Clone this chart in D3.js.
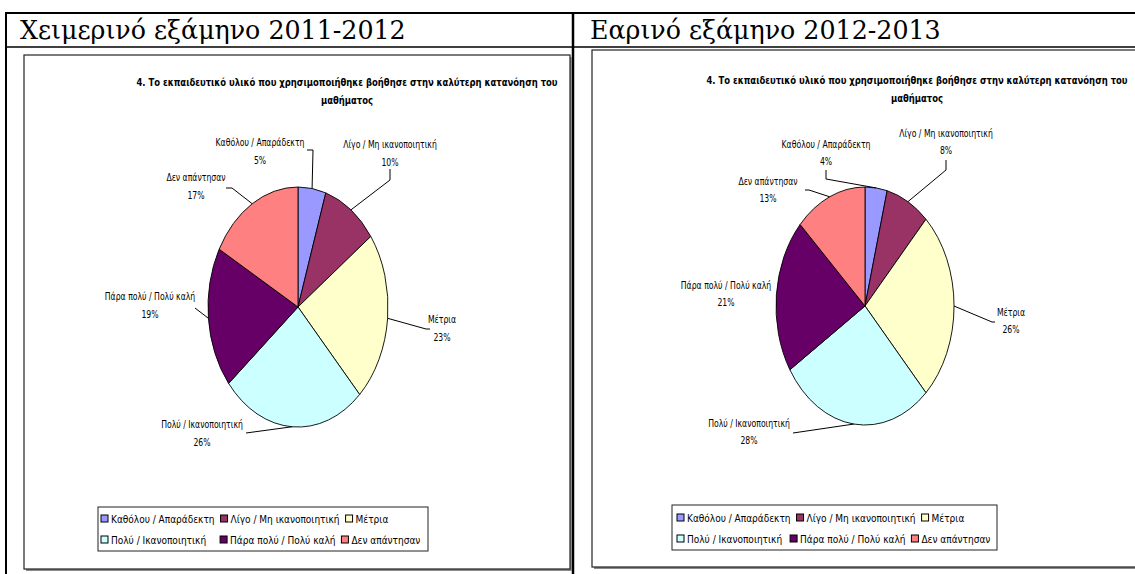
<!DOCTYPE html>
<html>
<head>
<meta charset="utf-8">
<script src="https://cdn.jsdelivr.net/npm/d3@7"></script>
<style>
  body { margin: 0; background: #fff; }
  svg { display: block; }
</style>
</head>
<body>
<svg id="chart" width="1135" height="574"></svg>
<script>
// Survey answers: share of students per answer, two semesters
const categories = [
  "Καθόλου / Απαράδεκτη",
  "Λίγο / Μη ικανοποιητική",
  "Μέτρια",
  "Πολύ / Ικανοποιητική",
  "Πάρα πολύ / Πολύ καλή",
  "Δεν απάντησαν"
];
const winterValues = [5, 10, 23, 26, 19, 17];
const springValues = [4, 8, 26, 28, 21, 13];
const semesterTitles = ["Χειμερινό εξάμηνο 2011-2012", "Εαρινό εξάμηνο 2012-2013"];
const chartTitleLines = [
  "4. Το εκπαιδευτικό υλικό που χρησιμοποιήθηκε βοήθησε στην καλύτερη κατανόηση του",
  "μαθήματος"
];
const sliceColors = ["#9999FF", "#993366", "#FFFFCC", "#CCFFFF", "#660066", "#FF8080"];

// Page layout for each semester column
const panels = [
  {
    values: winterValues,
    header: semesterTitles[0],
    headerX: 20,
    frame: { x: 24, y: 55, w: 546, h: 514 },
    titleX: 347, titleY: 86,
    pie: { cx: 298, cy: 307, rx: 90, ry: 120 },
    lineGap: 18,
    labels: [
      { x: 260, y: 146, leader: [[307, 150], [313, 150]] },
      { x: 390, y: 148, leader: [[390, 169], [390, 180]] },
      { x: 442, y: 323, leader: [[430, 329], [426, 329]] },
      { x: 202, y: 428, leader: [[246, 433]] },
      { x: 150, y: 300, leader: [[195, 308]] },
      { x: 196, y: 181, leader: [[226, 188], [232, 188]] }
    ],
    legend: { x: 98, y: 507, w: 330, h: 44, left: 101, rows: [519, 540], gaps: [6, 14] }
  },
  {
    values: springValues,
    header: semesterTitles[1],
    headerX: 590,
    frame: { x: 592, y: 50, w: 560, h: 517 },
    titleX: 917, titleY: 84,
    pie: { cx: 865, cy: 306, rx: 89, ry: 119 },
    lineGap: 17,
    labels: [
      { x: 826, y: 148, leader: [[826, 170], [826, 179]] },
      { x: 946, y: 137, leader: [[946, 160], [946, 170]] },
      { x: 1011, y: 316, leader: [[995, 322], [992, 322]] },
      { x: 749, y: 427, leader: [[793, 433]] },
      { x: 726, y: 289, leader: null },
      { x: 768, y: 185, leader: [[805, 190], [809, 190]] }
    ],
    legend: { x: 672, y: 505, w: 325, h: 45, left: 677, rows: [518, 539], gaps: [6, 8] }
  }
];

const svg = d3.select("#chart");
const labelFont = "'DejaVu Sans Condensed', 'Liberation Sans Narrow', sans-serif";
const narrow = 0.86; // horizontal squeeze for the compact chart lettering

// Places a text at (x, y) with a narrowed letterform
function narrowText(parent, x, y, str, k = narrow) {
  return parent.append("text")
    .attr("transform", `translate(${x},${y}) scale(${k},1)`)
    .text(str);
}

// Table grid
const grid = svg.append("g").attr("stroke", "#000");
grid.append("line").attr("x1", 6).attr("x2", 1135).attr("y1", 13).attr("y2", 13).attr("stroke-width", 2);
grid.append("line").attr("x1", 6).attr("x2", 1135).attr("y1", 47).attr("y2", 47).attr("stroke-width", 1.5);
grid.append("line").attr("x1", 6).attr("x2", 6).attr("y1", 12).attr("y2", 574).attr("stroke-width", 2);
grid.append("line").attr("x1", 573).attr("x2", 573).attr("y1", 12).attr("y2", 574).attr("stroke-width", 2.5);

const pie = d3.pie().sort(null).value(d => d).startAngle(0).endAngle(2 * Math.PI);
const unitArc = d3.arc().innerRadius(0).outerRadius(1);
const rimArc = d3.arc().innerRadius(1).outerRadius(1);

panels.forEach(p => {
  // Semester header
  svg.append("text")
    .attr("x", p.headerX).attr("y", 39)
    .attr("font-family", "'DejaVu Serif', 'Liberation Serif', serif")
    .attr("font-size", 25.3)
    .attr("fill", "#000")
    .text(p.header);

  // Chart area with a soft shadow
  const f = p.frame;
  svg.append("rect")
    .attr("x", f.x + 2).attr("y", f.y + 2).attr("width", f.w).attr("height", f.h)
    .attr("fill", "#8a8a8a");
  svg.append("rect")
    .attr("x", f.x).attr("y", f.y).attr("width", f.w).attr("height", f.h)
    .attr("fill", "#fff").attr("stroke", "#222").attr("stroke-width", 1.2);

  // Chart title
  const tg = svg.append("g")
    .attr("font-family", labelFont)
    .attr("font-weight", "bold")
    .attr("font-size", 11)
    .attr("text-anchor", "middle");
  chartTitleLines.forEach((line, i) => narrowText(tg, p.titleX, p.titleY + i * 18, line, 0.855));

  // Pie, drawn on a unit circle and stretched into the ellipse
  const slices = pie(p.values);
  const sx = d3.scaleLinear().domain([-1, 1]).range([p.pie.cx - p.pie.rx, p.pie.cx + p.pie.rx]);
  const sy = d3.scaleLinear().domain([-1, 1]).range([p.pie.cy - p.pie.ry, p.pie.cy + p.pie.ry]);

  svg.append("g")
    .attr("transform", `translate(${p.pie.cx},${p.pie.cy}) scale(${p.pie.rx},${p.pie.ry})`)
    .selectAll("path")
    .data(slices)
    .join("path")
    .attr("d", unitArc)
    .attr("fill", (d, i) => sliceColors[i])
    .attr("stroke", "#000")
    .attr("stroke-width", 0.9)
    .attr("vector-effect", "non-scaling-stroke");

  // Leader lines from each label to the rim of its slice
  const line = d3.line();
  slices.forEach((s, i) => {
    const lab = p.labels[i];
    if (!lab.leader) return;
    const [ux, uy] = rimArc.centroid(s);
    const pts = lab.leader.concat([[sx(ux), sy(uy)]]);
    svg.append("path")
      .attr("d", line(pts))
      .attr("fill", "none")
      .attr("stroke", "#000")
      .attr("stroke-width", 1);
  });

  // Category and percentage labels
  const lg = svg.append("g")
    .attr("font-family", labelFont)
    .attr("font-size", 10)
    .attr("fill", "#000")
    .attr("text-anchor", "middle");
  slices.forEach((s, i) => {
    const lab = p.labels[i];
    narrowText(lg, lab.x, lab.y, categories[i]);
    narrowText(lg, lab.x, lab.y + p.lineGap, s.data + "%");
  });

  // Legend: three entries per row, each following the previous one
  const L = p.legend;
  svg.append("rect")
    .attr("x", L.x).attr("y", L.y).attr("width", L.w).attr("height", L.h)
    .attr("fill", "#fff").attr("stroke", "#222").attr("stroke-width", 1);
  const legendG = svg.append("g")
    .attr("font-family", labelFont)
    .attr("font-size", 10);
  let cursor = L.left;
  categories.forEach((name, i) => {
    const row = Math.floor(i / 3);
    if (i % 3 === 0) cursor = L.left;
    const item = legendG.append("g").attr("transform", `translate(${cursor},${L.rows[row]})`);
    item.append("rect")
      .attr("x", 0).attr("y", -4).attr("width", 7).attr("height", 7)
      .attr("fill", sliceColors[i])
      .attr("stroke", "#000").attr("stroke-width", 1);
    const t = item.append("text").attr("x", 10).attr("y", 3.5).text(name);
    cursor += 10 + t.node().getComputedTextLength() + (i % 3 === 0 ? L.gaps[row] : 6);
  });
});
</script>
</body>
</html>
